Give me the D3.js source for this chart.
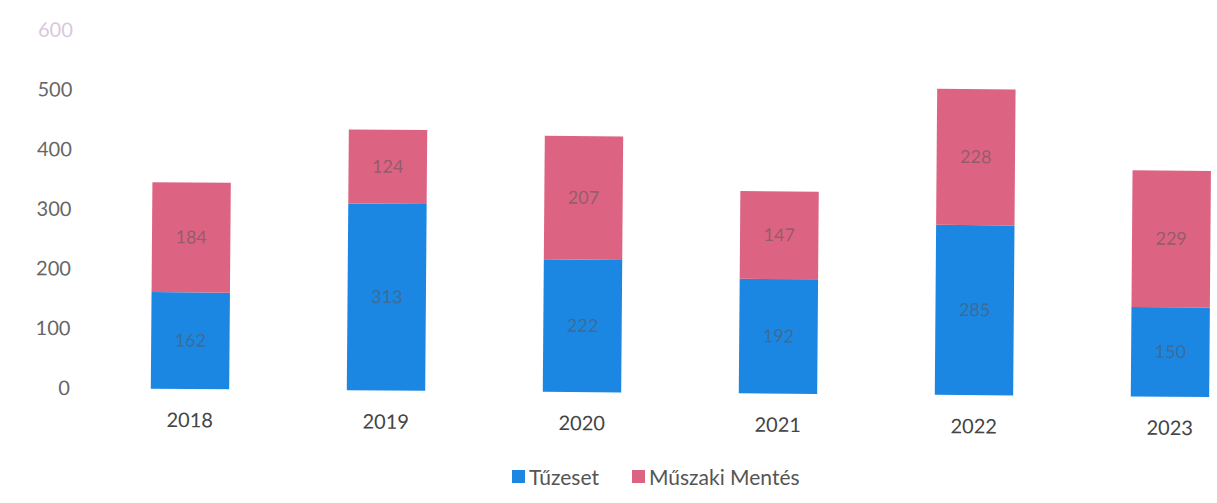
<!DOCTYPE html>
<html>
<head>
<meta charset="utf-8">
<script src="https://d3js.org/d3.v7.min.js"></script>
<style>
    body { margin: 0; background: #fff; }
    text { font-family: Lato, "Open Sans", sans-serif; }
</style>
</head>
<body>
<script>
// chart data
const years = ["2018", "2019", "2020", "2021", "2022", "2023"];
const tuzeset = [162, 313, 222, 192, 285, 150];
const muszaki = [184, 124, 207, 147, 228, 229];
const yTicks = [0, 100, 200, 300, 400, 500, 600];
const seriesNames = ["Tűzeset", "Műszaki Mentés"];
const colors = ["#1c87e2", "#dc6482"];

const width = 1217, height = 503;
const svg = d3.select("body").append("svg").attr("width", width).attr("height", height);

// the scan is a bit tilted, so the plot is turned a little
const g = svg.append("g").attr("transform", "rotate(0.45, 62, 388)");

const x = d3.scaleBand().domain(years).range([92, 1268]).paddingInner(0.6).paddingOuter(0.3);
const y = d3.scaleLinear().domain([0, 600]).range([388, 30]);

// y axis labels
const yAxis = g.append("g").attr("transform", "translate(70,0)")
    .call(d3.axisLeft(y).tickValues(yTicks).tickSize(0).tickPadding(0));
yAxis.select(".domain").remove();
yAxis.selectAll("text")
    .style("font-size", "20px")
    .attr("fill", (d) => d === 600 ? "#d8c8dc" : "#666");

// x axis labels
const xAxis = g.append("g").attr("transform", "translate(0,388)")
    .call(d3.axisBottom(x).tickSize(0).tickPadding(24));
xAxis.select(".domain").remove();
xAxis.selectAll("text").style("font-size", "20px").attr("fill", "#444");

// stacked data
const rows = years.map((yr, i) => ({ year: yr, a: tuzeset[i], b: muszaki[i] }));
const stack = d3.stack().keys(["a", "b"])(rows);

const layers = g.selectAll(".layer").data(stack).enter().append("g")
    .attr("class", "layer")
    .attr("fill", (d, i) => colors[i]);

layers.selectAll("rect").data((d) => d).enter().append("rect")
    .attr("x", (d) => x(d.data.year))
    .attr("width", x.bandwidth())
    .attr("y", (d) => y(d[1]))
    .attr("height", (d) => y(d[0]) - y(d[1]));

layers.selectAll("text").data((d) => d).enter().append("text")
    .attr("x", (d) => x(d.data.year) + x.bandwidth() / 2)
    .attr("y", (d) => (y(d[0]) + y(d[1])) / 2 + 6)
    .attr("text-anchor", "middle")
    .style("font-size", "18px")
    .attr("fill", "#555")
    .attr("fill-opacity", 0.55)
    .text((d) => d[1] - d[0]);

// legend
const legend = svg.append("g").attr("transform", "translate(512,478)");
const legendX = [0, 120];
seriesNames.forEach((name, i) => {
    legend.append("rect")
        .attr("x", legendX[i]).attr("y", -8)
        .attr("width", 13).attr("height", 13)
        .attr("fill", colors[i]);
    legend.append("text")
        .attr("x", legendX[i] + 17).attr("y", 7)
        .style("font-size", "21px")
        .attr("fill", "#555")
        .text(name);
});
</script>
</body>
</html>
